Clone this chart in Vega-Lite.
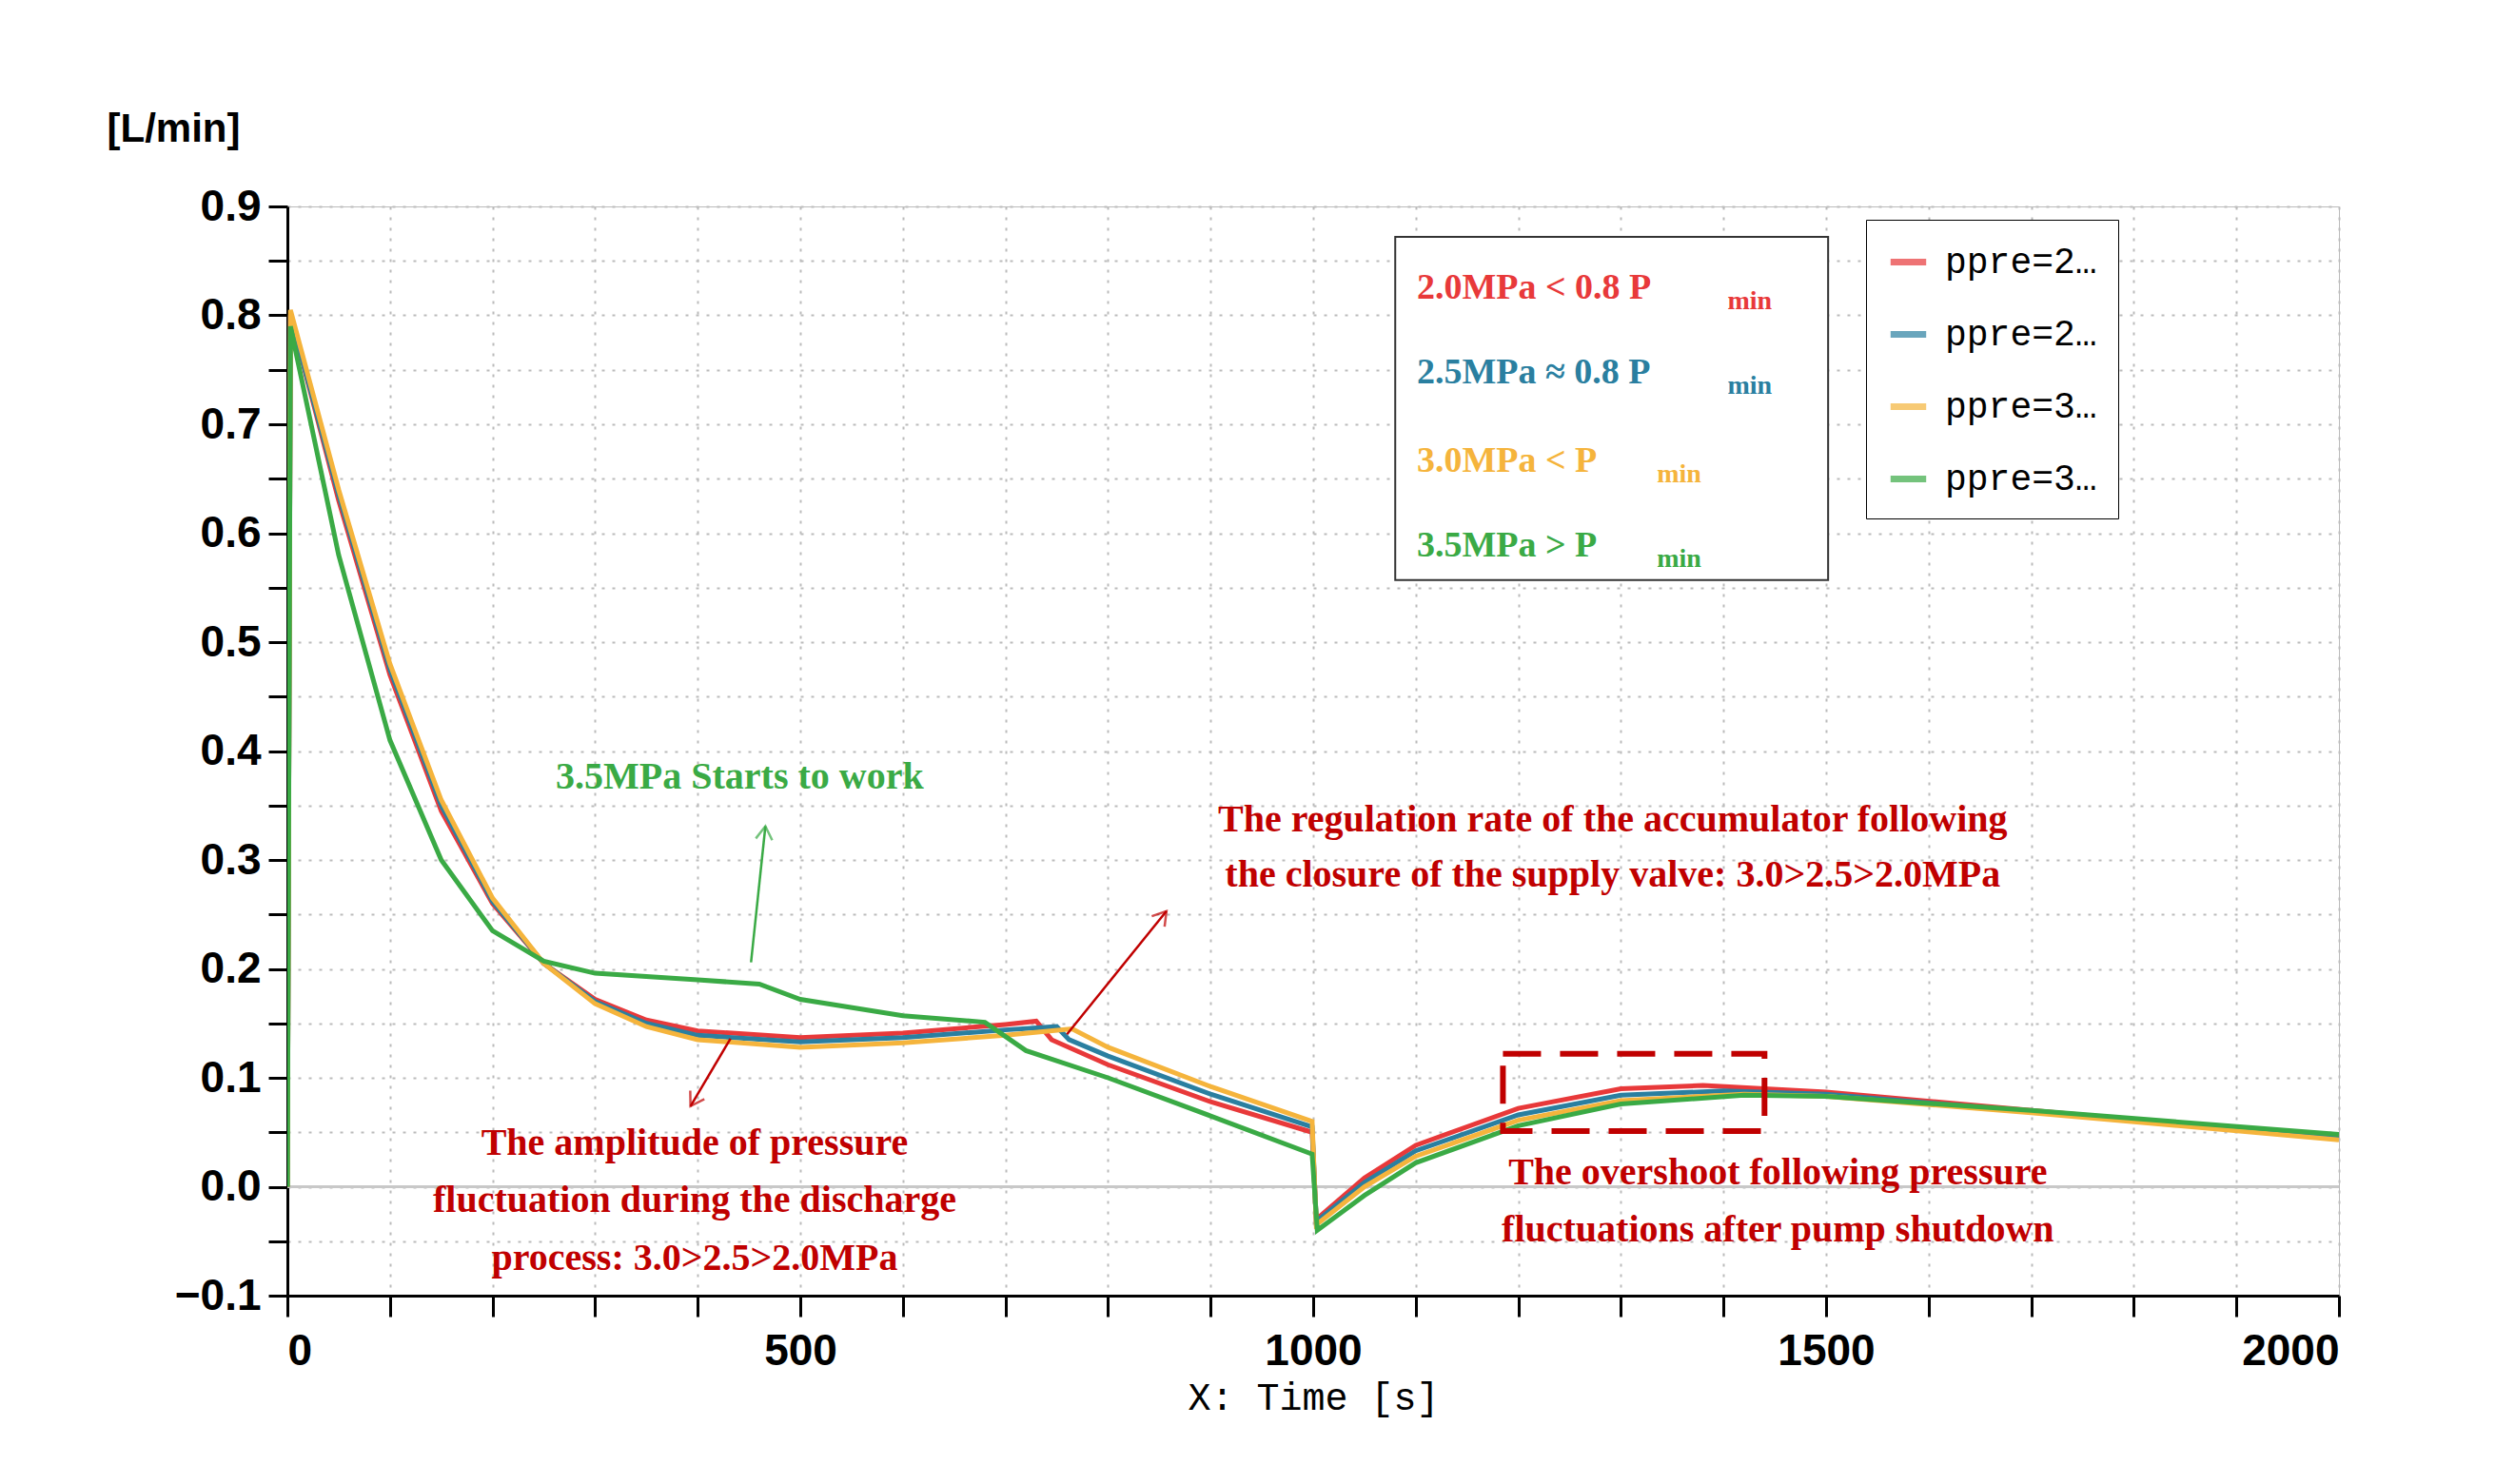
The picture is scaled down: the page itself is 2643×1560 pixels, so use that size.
{
  "$schema": "https://vega.github.io/schema/vega-lite/v6.json",
  "width": 2156,
  "height": 1145,
  "autosize": "none",
  "padding": {"left": 302, "top": 217, "right": 185, "bottom": 198},
  "background": "white",
  "config": {
    "view": {"stroke": "#bbbbbb"},
    "font": "Liberation Sans"
  },
  "datasets": {
    "flow": [
      {"s": "ppre=20 barA", "t": 0, "q": 0}, {"s": "ppre=20 barA", "t": 3, "q": 0.8}, {"s": "ppre=20 barA", "t": 50, "q": 0.63}, {"s": "ppre=20 barA", "t": 100, "q": 0.47}, {"s": "ppre=20 barA", "t": 150, "q": 0.345}, {"s": "ppre=20 barA", "t": 200, "q": 0.26}, {"s": "ppre=20 barA", "t": 250, "q": 0.205}, {"s": "ppre=20 barA", "t": 300, "q": 0.172}, {"s": "ppre=20 barA", "t": 350, "q": 0.153}, {"s": "ppre=20 barA", "t": 400, "q": 0.143}, {"s": "ppre=20 barA", "t": 500, "q": 0.137}, {"s": "ppre=20 barA", "t": 600, "q": 0.141}, {"s": "ppre=20 barA", "t": 700, "q": 0.149}, {"s": "ppre=20 barA", "t": 730, "q": 0.152}, {"s": "ppre=20 barA", "t": 745, "q": 0.135}, {"s": "ppre=20 barA", "t": 800, "q": 0.112}, {"s": "ppre=20 barA", "t": 900, "q": 0.078}, {"s": "ppre=20 barA", "t": 999, "q": 0.05}, {"s": "ppre=20 barA", "t": 1003, "q": -0.03}, {"s": "ppre=20 barA", "t": 1050, "q": 0.008}, {"s": "ppre=20 barA", "t": 1100, "q": 0.038}, {"s": "ppre=20 barA", "t": 1200, "q": 0.072}, {"s": "ppre=20 barA", "t": 1300, "q": 0.09}, {"s": "ppre=20 barA", "t": 1380, "q": 0.093}, {"s": "ppre=20 barA", "t": 1500, "q": 0.087}, {"s": "ppre=20 barA", "t": 1700, "q": 0.07}, {"s": "ppre=20 barA", "t": 2000, "q": 0.045},
      {"s": "ppre=25 barA", "t": 0, "q": 0}, {"s": "ppre=25 barA", "t": 3, "q": 0.8}, {"s": "ppre=25 barA", "t": 50, "q": 0.635}, {"s": "ppre=25 barA", "t": 100, "q": 0.475}, {"s": "ppre=25 barA", "t": 150, "q": 0.35}, {"s": "ppre=25 barA", "t": 200, "q": 0.262}, {"s": "ppre=25 barA", "t": 250, "q": 0.205}, {"s": "ppre=25 barA", "t": 300, "q": 0.17}, {"s": "ppre=25 barA", "t": 350, "q": 0.15}, {"s": "ppre=25 barA", "t": 400, "q": 0.139}, {"s": "ppre=25 barA", "t": 500, "q": 0.133}, {"s": "ppre=25 barA", "t": 600, "q": 0.137}, {"s": "ppre=25 barA", "t": 700, "q": 0.144}, {"s": "ppre=25 barA", "t": 750, "q": 0.147}, {"s": "ppre=25 barA", "t": 762, "q": 0.135}, {"s": "ppre=25 barA", "t": 800, "q": 0.12}, {"s": "ppre=25 barA", "t": 900, "q": 0.085}, {"s": "ppre=25 barA", "t": 999, "q": 0.055}, {"s": "ppre=25 barA", "t": 1003, "q": -0.032}, {"s": "ppre=25 barA", "t": 1050, "q": 0.004}, {"s": "ppre=25 barA", "t": 1100, "q": 0.033}, {"s": "ppre=25 barA", "t": 1200, "q": 0.066}, {"s": "ppre=25 barA", "t": 1300, "q": 0.084}, {"s": "ppre=25 barA", "t": 1400, "q": 0.088}, {"s": "ppre=25 barA", "t": 1500, "q": 0.085}, {"s": "ppre=25 barA", "t": 1700, "q": 0.069}, {"s": "ppre=25 barA", "t": 2000, "q": 0.044},
      {"s": "ppre=30 barA", "t": 0, "q": 0}, {"s": "ppre=30 barA", "t": 3, "q": 0.805}, {"s": "ppre=30 barA", "t": 50, "q": 0.64}, {"s": "ppre=30 barA", "t": 100, "q": 0.48}, {"s": "ppre=30 barA", "t": 150, "q": 0.355}, {"s": "ppre=30 barA", "t": 200, "q": 0.265}, {"s": "ppre=30 barA", "t": 250, "q": 0.205}, {"s": "ppre=30 barA", "t": 300, "q": 0.168}, {"s": "ppre=30 barA", "t": 350, "q": 0.147}, {"s": "ppre=30 barA", "t": 400, "q": 0.135}, {"s": "ppre=30 barA", "t": 500, "q": 0.128}, {"s": "ppre=30 barA", "t": 600, "q": 0.132}, {"s": "ppre=30 barA", "t": 700, "q": 0.139}, {"s": "ppre=30 barA", "t": 765, "q": 0.145}, {"s": "ppre=30 barA", "t": 800, "q": 0.128}, {"s": "ppre=30 barA", "t": 900, "q": 0.092}, {"s": "ppre=30 barA", "t": 999, "q": 0.06}, {"s": "ppre=30 barA", "t": 1003, "q": -0.035}, {"s": "ppre=30 barA", "t": 1050, "q": 0.0}, {"s": "ppre=30 barA", "t": 1100, "q": 0.028}, {"s": "ppre=30 barA", "t": 1200, "q": 0.061}, {"s": "ppre=30 barA", "t": 1300, "q": 0.079}, {"s": "ppre=30 barA", "t": 1420, "q": 0.085}, {"s": "ppre=30 barA", "t": 1500, "q": 0.083}, {"s": "ppre=30 barA", "t": 1700, "q": 0.068}, {"s": "ppre=30 barA", "t": 2000, "q": 0.043},
      {"s": "ppre=35 barA", "t": 0, "q": 0}, {"s": "ppre=35 barA", "t": 3, "q": 0.79}, {"s": "ppre=35 barA", "t": 50, "q": 0.58}, {"s": "ppre=35 barA", "t": 100, "q": 0.41}, {"s": "ppre=35 barA", "t": 150, "q": 0.3}, {"s": "ppre=35 barA", "t": 200, "q": 0.235}, {"s": "ppre=35 barA", "t": 250, "q": 0.207}, {"s": "ppre=35 barA", "t": 300, "q": 0.196}, {"s": "ppre=35 barA", "t": 400, "q": 0.19}, {"s": "ppre=35 barA", "t": 460, "q": 0.186}, {"s": "ppre=35 barA", "t": 500, "q": 0.172}, {"s": "ppre=35 barA", "t": 600, "q": 0.157}, {"s": "ppre=35 barA", "t": 680, "q": 0.151}, {"s": "ppre=35 barA", "t": 720, "q": 0.125}, {"s": "ppre=35 barA", "t": 800, "q": 0.1}, {"s": "ppre=35 barA", "t": 900, "q": 0.065}, {"s": "ppre=35 barA", "t": 999, "q": 0.03}, {"s": "ppre=35 barA", "t": 1004, "q": -0.04}, {"s": "ppre=35 barA", "t": 1050, "q": -0.008}, {"s": "ppre=35 barA", "t": 1100, "q": 0.022}, {"s": "ppre=35 barA", "t": 1200, "q": 0.056}, {"s": "ppre=35 barA", "t": 1300, "q": 0.076}, {"s": "ppre=35 barA", "t": 1420, "q": 0.084}, {"s": "ppre=35 barA", "t": 1500, "q": 0.083}, {"s": "ppre=35 barA", "t": 1700, "q": 0.07}, {"s": "ppre=35 barA", "t": 2000, "q": 0.048}
    ],
    "notes": [
      {"x": 441, "y": 0.376, "txt": "3.5MPa Starts to work", "c": "#3aaa45"},
      {"x": 1292, "y": 0.337, "txt": "The regulation rate of the accumulator following", "c": "#c00000"},
      {"x": 1292, "y": 0.286, "txt": "the closure of the supply valve: 3.0>2.5>2.0MPa", "c": "#c00000"},
      {"x": 397, "y": 0.04, "txt": "The amplitude of pressure", "c": "#c00000"},
      {"x": 397, "y": -0.013, "txt": "fluctuation during the discharge", "c": "#c00000"},
      {"x": 397, "y": -0.066, "txt": "process: 3.0>2.5>2.0MPa", "c": "#c00000"},
      {"x": 1453, "y": 0.013, "txt": "The overshoot following pressure", "c": "#c00000"},
      {"x": 1453, "y": -0.04, "txt": "fluctuations after pump shutdown", "c": "#c00000"}
    ],
    "keys": [
      {"x": 1101, "y": 0.825, "txt": "2.0MPa < 0.8 P", "sx": 1404, "c": "#e8393a"},
      {"x": 1101, "y": 0.747, "txt": "2.5MPa ≈ 0.8 P", "sx": 1404, "c": "#2a7fa0"},
      {"x": 1101, "y": 0.666, "txt": "3.0MPa < P", "sx": 1335, "c": "#f5b43c"},
      {"x": 1101, "y": 0.588, "txt": "3.5MPa > P", "sx": 1335, "c": "#3aaa45"}
    ],
    "arrows": [
      {"x": 452, "y": 0.206, "x2": 466, "y2": 0.331, "a": 6, "c": "#3aaa45"},
      {"x": 760, "y": 0.14, "x2": 857, "y2": 0.253, "a": 39, "c": "#c00000"},
      {"x": 432, "y": 0.136, "x2": 393, "y2": 0.074, "a": 211, "c": "#c00000"}
    ]
  },
  "layer": [
    {
      "data": {"values": [{"v": 0}]},
      "mark": {"type": "rule", "color": "#c8c8c8", "strokeWidth": 3},
      "encoding": {"y": {"field": "v", "type": "quantitative", "scale": {"domain": [-0.1, 0.9]}}}
    },
    {
      "data": {"name": "flow"},
      "mark": {"type": "line", "strokeWidth": 5, "clip": true},
      "encoding": {
        "x": {
          "field": "t", "type": "quantitative",
          "scale": {"domain": [0, 2000], "nice": false},
          "axis": {
            "values": [0, 100, 200, 300, 400, 500, 600, 700, 800, 900, 1000, 1100, 1200, 1300, 1400, 1500, 1600, 1700, 1800, 1900, 2000],
            "labelExpr": "datum.value % 500 == 0 ? datum.value : ''",
            "title": "X: Time [s]", "titleFont": "Liberation Mono", "titleFontSize": 40, "titleFontWeight": "normal", "titlePadding": 6,
            "labelFont": "Liberation Sans", "labelFontSize": 46, "labelFontWeight": "bold", "labelColor": "black", "labelPadding": 14,
            "domainColor": "black", "domainWidth": 3, "tickColor": "black", "tickWidth": 3, "tickSize": 22,
            "grid": true, "gridDash": [3, 8], "gridColor": "#bbbbbb", "gridWidth": 2
          }
        },
        "y": {
          "field": "q", "type": "quantitative",
          "scale": {"domain": [-0.1, 0.9], "nice": false},
          "axis": {
            "values": [-0.1, -0.05, 0, 0.05, 0.1, 0.15, 0.2, 0.25, 0.3, 0.35, 0.4, 0.45, 0.5, 0.55, 0.6, 0.65, 0.7, 0.75, 0.8, 0.85, 0.9],
            "labelExpr": "abs(round(datum.value*100)) % 10 == 0 ? format(datum.value, '.1f') : ''",
            "title": "[L/min]", "titleAngle": 0, "titleX": -190, "titleY": -60, "titleAlign": "left",
            "titleFontSize": 42, "titleFontWeight": "bold",
            "labelFont": "Liberation Sans", "labelFontSize": 46, "labelFontWeight": "bold", "labelColor": "black", "labelPadding": 8,
            "domainColor": "black", "domainWidth": 3, "tickColor": "black", "tickWidth": 3, "tickSize": 20,
            "grid": true, "gridDash": [3, 8], "gridColor": "#bbbbbb", "gridWidth": 2
          }
        },
        "color": {
          "field": "s", "type": "nominal",
          "scale": {"domain": ["ppre=20 barA", "ppre=25 barA", "ppre=30 barA", "ppre=35 barA"], "range": ["#e8393a", "#2a7fa0", "#f5b43c", "#3aaa45"]},
          "legend": {
            "title": null, "orient": "none", "legendX": 1659, "legendY": 14,
            "strokeColor": "black", "fillColor": "white", "padding": 22,
            "symbolType": "stroke", "symbolStrokeWidth": 7, "symbolSize": 1400,
            "labelFont": "Liberation Mono", "labelFontSize": 38, "labelColor": "black", "rowPadding": 34, "labelOffset": 16
          }
        }
      }
    },
    {
      "data": {"values": [{"x": 1080, "x2": 1502, "y": 0.557, "y2": 0.872}]},
      "mark": {"type": "rect", "fill": "white", "stroke": "#333333", "strokeWidth": 2},
      "encoding": {
        "x": {"field": "x", "type": "quantitative"}, "x2": {"field": "x2"},
        "y": {"field": "y", "type": "quantitative"}, "y2": {"field": "y2"}
      }
    },
    {
      "data": {"values": [{"x": 1185, "x2": 1440, "y": 0.051, "y2": 0.122}]},
      "mark": {"type": "rect", "fillOpacity": 0, "stroke": "#c00000", "strokeWidth": 6, "strokeDash": [40, 20]},
      "encoding": {
        "x": {"field": "x", "type": "quantitative"}, "x2": {"field": "x2"},
        "y": {"field": "y", "type": "quantitative"}, "y2": {"field": "y2"}
      }
    },
    {
      "data": {"name": "keys"},
      "mark": {"type": "text", "align": "left", "baseline": "middle", "font": "Liberation Serif", "fontWeight": "bold", "fontSize": 38},
      "encoding": {
        "x": {"field": "x", "type": "quantitative"},
        "y": {"field": "y", "type": "quantitative"},
        "text": {"field": "txt"},
        "color": {"field": "c", "type": "nominal", "scale": null}
      }
    },
    {
      "data": {"name": "keys"},
      "mark": {"type": "text", "align": "left", "baseline": "middle", "font": "Liberation Serif", "fontWeight": "bold", "fontSize": 28, "dy": 14, "text": "min"},
      "encoding": {
        "x": {"field": "sx", "type": "quantitative"},
        "y": {"field": "y", "type": "quantitative"},
        "color": {"field": "c", "type": "nominal", "scale": null}
      }
    },
    {
      "data": {"name": "notes"},
      "mark": {"type": "text", "align": "center", "baseline": "middle", "font": "Liberation Serif", "fontWeight": "bold", "fontSize": 40},
      "encoding": {
        "x": {"field": "x", "type": "quantitative"},
        "y": {"field": "y", "type": "quantitative"},
        "text": {"field": "txt"},
        "color": {"field": "c", "type": "nominal", "scale": null}
      }
    },
    {
      "data": {"name": "arrows"},
      "mark": {"type": "rule", "strokeWidth": 2.5},
      "encoding": {
        "x": {"field": "x", "type": "quantitative"}, "x2": {"field": "x2"},
        "y": {"field": "y", "type": "quantitative"}, "y2": {"field": "y2"},
        "color": {"field": "c", "type": "nominal", "scale": null}
      }
    },
    {
      "data": {"name": "arrows"},
      "mark": {"type": "point", "shape": "M-1,1.6L0,0L1,1.6", "filled": false, "strokeWidth": 2.5, "size": 300},
      "encoding": {
        "x": {"field": "x2", "type": "quantitative"},
        "y": {"field": "y2", "type": "quantitative"},
        "angle": {"field": "a", "type": "quantitative", "scale": null},
        "color": {"field": "c", "type": "nominal", "scale": null}
      }
    }
  ]
}
